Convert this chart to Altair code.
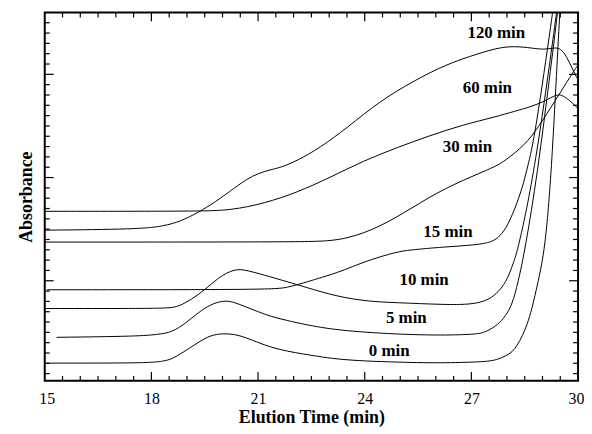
import altair as alt
import pandas as pd
import numpy as np

# ---- data (elution time in min, absorbance in arbitrary units) ----
t0_x = [15.0, 17.92, 18.34, 18.57, 18.90, 19.32, 19.65, 20.01, 20.35, 20.63, 20.99, 21.35, 21.82, 22.30, 22.66, 23.22, 24.05, 24.89, 26.00, 27.12, 27.53, 27.76, 27.95, 28.15, 28.29, 28.43, 28.57, 28.70, 28.87, 29.07, 29.26, 29.48, 29.57]
t0_y = [0.202, 0.202, 0.221, 0.240, 0.308, 0.404, 0.471, 0.490, 0.481, 0.452, 0.404, 0.356, 0.317, 0.288, 0.269, 0.240, 0.221, 0.212, 0.202, 0.212, 0.221, 0.240, 0.269, 0.308, 0.375, 0.462, 0.577, 0.721, 0.981, 1.298, 2.067, 3.606, 3.99]

t5_x = [15.33, 17.65, 18.20, 18.57, 18.96, 19.32, 19.65, 20.01, 20.29, 20.63, 20.99, 21.35, 21.82, 22.30, 23.22, 24.89, 26.20, 27.12, 27.40, 27.76, 27.95, 28.15, 28.31, 28.51, 28.87, 29.15, 29.43, 29.51]
t5_y = [0.452, 0.462, 0.481, 0.500, 0.587, 0.692, 0.769, 0.808, 0.798, 0.750, 0.702, 0.654, 0.615, 0.577, 0.519, 0.481, 0.471, 0.481, 0.500, 0.577, 0.654, 0.769, 0.981, 1.298, 2.067, 2.837, 3.606, 3.894]

t10_x = [15.0, 17.65, 18.50, 18.76, 19.12, 19.51, 19.87, 20.35, 20.71, 21.35, 21.82, 22.30, 23.22, 24.14, 24.89, 26.20, 26.84, 27.26, 27.59, 27.81, 28.01, 28.18, 28.31, 28.79, 29.40, 29.51]
t10_y = [0.731, 0.731, 0.735, 0.750, 0.817, 0.913, 1.029, 1.120, 1.100, 1.038, 0.990, 0.942, 0.846, 0.798, 0.788, 0.769, 0.769, 0.788, 0.837, 0.913, 1.010, 1.173, 1.298, 2.067, 3.606, 3.894]

t15_x = [15.06, 21.35, 21.82, 22.30, 22.66, 23.22, 23.64, 24.14, 24.89, 25.25, 26.20, 27.12, 27.59, 27.81, 28.01, 28.23, 28.43, 28.59, 28.79, 29.29, 29.40]
t15_y = [0.913, 0.913, 0.933, 0.981, 1.019, 1.077, 1.135, 1.202, 1.279, 1.298, 1.327, 1.346, 1.375, 1.433, 1.529, 1.702, 1.894, 2.115, 2.404, 3.606, 3.894]

t30_x = [15.0, 22.10, 23.02, 23.50, 23.97, 24.42, 24.89, 25.36, 25.81, 26.28, 26.75, 27.20, 27.67, 27.95, 28.51, 28.87, 29.35, 29.82, 29.99]
t30_y = [1.375, 1.375, 1.385, 1.413, 1.462, 1.529, 1.615, 1.712, 1.808, 1.894, 1.971, 2.038, 2.106, 2.163, 2.317, 2.481, 2.740, 3.000, 3.087]

t60_x = [15.0, 19.32, 20.24, 21.18, 22.10, 23.02, 23.97, 24.89, 25.81, 26.75, 27.67, 28.23, 28.65, 29.07, 29.40, 29.57, 29.82, 29.99]
t60_y = [1.673, 1.673, 1.683, 1.750, 1.856, 2.000, 2.163, 2.288, 2.404, 2.510, 2.587, 2.644, 2.683, 2.740, 2.808, 2.798, 2.731, 2.673]

t120_x = [15.0, 17.65, 18.34, 18.84, 19.32, 19.79, 20.35, 20.71, 20.99, 21.35, 21.63, 22.10, 22.74, 23.50, 24.42, 25.36, 26.28, 27.20, 27.87, 28.37, 28.79, 29.07, 29.35, 29.51, 29.68, 29.85, 29.99]
t120_y = [1.490, 1.500, 1.529, 1.577, 1.663, 1.760, 1.904, 1.990, 2.038, 2.077, 2.096, 2.163, 2.288, 2.481, 2.740, 2.933, 3.096, 3.202, 3.269, 3.269, 3.250, 3.240, 3.260, 3.250, 3.173, 3.048, 2.952]

label_text = ["120 min", "60 min", "30 min", "15 min", "10 min", "5 min", "0 min"]
label_x = [27.70, 27.45, 26.89, 26.34, 25.67, 25.17, 24.69]
label_y = [3.40, 2.865, 2.298, 1.471, 1.010, 0.635, 0.317]

x_tick_labels = [15, 18, 21, 24, 27, 30]

# ---- build table ----
series = [("0 min", t0_x, t0_y), ("5 min", t5_x, t5_y), ("10 min", t10_x, t10_y),
          ("15 min", t15_x, t15_y), ("30 min", t30_x, t30_y), ("60 min", t60_x, t60_y),
          ("120 min", t120_x, t120_y)]
rows = []
for name, xs, ys in series:
    for i, (a, b) in enumerate(zip(xs, ys)):
        rows.append({"series": name, "i": i, "t": a, "A": b})
df = pd.DataFrame(rows)
labels_df = pd.DataFrame({"label": label_text, "t": label_x, "A": label_y})

W, H = 537, 371
XDOM = [15, 30]
YDOM = [0.03, 3.6]
xs_ = alt.Scale(domain=XDOM, nice=False, zero=False)
ys_ = alt.Scale(domain=YDOM, nice=False, zero=False)

FONT = "Liberation Serif"

x_axis = alt.Axis(
    values=x_tick_labels, title="Elution Time (min)", ticks=False, tickSize=0, domain=False, grid=False,
    labelFlush=True, labelFlushOffset=6, labelFont=FONT, labelFontSize=16, labelColor="black",
    labelBaseline="alphabetic", labelPadding=23,
    titleFont=FONT, titleFontSize=18, titleFontWeight="bold", titleColor="black",
    titleX=W / 2, titleY=42, titleBaseline="alphabetic")
y_axis = alt.Axis(
    labels=False, ticks=False, domain=False, grid=False, title="Absorbance",
    titleFont=FONT, titleFontSize=18, titleFontWeight="bold", titleColor="black",
    titleX=-13, titleY=H / 2, titleBaseline="alphabetic")

X = lambda: alt.X("t:Q", scale=xs_, axis=x_axis)
Y = lambda: alt.Y("A:Q", scale=ys_, axis=y_axis)

lines = alt.Chart(df).mark_line(color="black", strokeWidth=1, clip=True, interpolate="basis").encode(
    x=X(), y=Y(), detail="series:N", order="i:Q",
)

texts = alt.Chart(labels_df).mark_text(font=FONT, fontSize=17, fontWeight="bold", color="black").encode(
    x=X(), y=Y(), text="label:N",
)

# inward tick marks
x_major = [18, 21, 24, 27]
x_minor = [v for v in np.arange(15.5, 30.0, 0.5).round(1).tolist() if v not in (18.0, 21.0, 24.0, 27.0)]
y_major = [1, 2, 3]
y_minor = [round(0.1 * k, 1) for k in range(1, 36) if k % 10 != 0]

def xticks(vals, y0, y1):
    return alt.Chart(pd.DataFrame({"t": vals})).mark_rule(color="black", strokeWidth=1.2).encode(
        x=X(), y=alt.value(y0), y2=alt.value(y1))

def yticks(vals, x0, x1):
    return alt.Chart(pd.DataFrame({"A": vals})).mark_rule(color="black", strokeWidth=1.2).encode(
        y=Y(), x=alt.value(x0), x2=alt.value(x1))

ticks = [
    xticks(x_minor, H, H - 5), xticks(x_major, H, H - 9),
    xticks(x_minor, 0, 5), xticks(x_major, 0, 9),
    yticks(y_minor, 0, 5), yticks(y_major, 0, 9),
    yticks(y_minor, W, W - 5), yticks(y_major, W, W - 9),
]

chart = alt.layer(lines, texts, *ticks).properties(
    width=W, height=H,
    background="white",
    padding={"left": 37, "top": 3, "right": 6, "bottom": 45},
    autosize=alt.AutoSizeParams(type="none"),
).configure_view(stroke="black", strokeWidth=2)

chart.save("out.html", embed_options={"renderer": "svg", "actions": False})
